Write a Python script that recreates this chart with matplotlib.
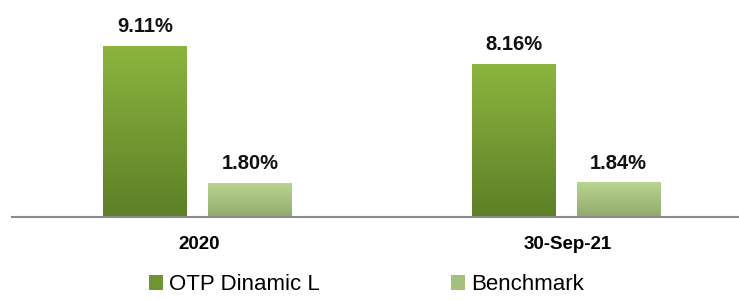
import matplotlib.pyplot as plt
import matplotlib.patches as mpatches
import matplotlib.colors as mcolors
import numpy as np

# 数据
categories = ['2020', '30-Sep-21']
series_names = ['OTP Dinamic L', 'Benchmark']
otp_values = [9.11, 8.16]
bench_values = [1.80, 1.84]

# 渐变颜色 (上, 下)
grad_colors = {
    'OTP Dinamic L': ('#8cb53f', '#5d7f27'),
    'Benchmark': ('#b9d590', '#90aa6c'),
}
legend_colors = {'OTP Dinamic L': '#6f9432', 'Benchmark': '#a5c07e'}

plt.rcParams['font.family'] = ['Liberation Sans', 'DejaVu Sans']

fig = plt.figure(figsize=(7.39, 3.0), dpi=100)
ax = fig.add_axes([0.0162, 0.277, 0.9838, 0.626])

x = np.arange(len(categories))
width = 0.227
offsets = [-0.1425, 0.1425]


def gradient_bar(ax, xc, h, c_top, c_bot):
    bars = ax.bar(xc, h, width, color='none', edgecolor='none')
    for b in bars:
        cmap = mcolors.LinearSegmentedColormap.from_list('g', [c_bot, c_top])
        grad = np.linspace(0, 1, 256).reshape(-1, 1)
        x0 = b.get_x()
        img = ax.imshow(grad, cmap=cmap, aspect='auto', origin='lower',
                        extent=(x0, x0 + b.get_width(), 0, b.get_height()), zorder=2)
        img.set_clip_path(b)
    return bars


for name, vals, off in zip(series_names, [otp_values, bench_values], offsets):
    top, bot = grad_colors[name]
    bars = gradient_bar(ax, x + off, vals, top, bot)
    for b, v in zip(bars, vals):
        ax.annotate(f'{v:.2f}%', (b.get_x() + b.get_width() / 2, v),
                    xytext=(0, 7), textcoords='offset points',
                    ha='center', va='bottom', fontsize=14.5, fontweight='bold', color='#111111')

ax.set_xlim(-0.5036, 1.4688)
ax.set_ylim(0, 10)
ax.set_aspect('auto')

for s in ['top', 'right', 'left']:
    ax.spines[s].set_visible(False)
ax.spines['bottom'].set_color('#8a8a8a')
ax.spines['bottom'].set_linewidth(1.5)
ax.set_yticks([])
ax.set_xticks(x + 0.004)
ax.set_xticklabels(categories, fontsize=13.5, fontweight='bold')
ax.tick_params(axis='x', length=0, pad=14)

handles = [mpatches.Patch(facecolor=legend_colors[n], label=n) for n in series_names]
fig.legend(handles=handles, loc='center', bbox_to_anchor=(0.496, 0.05), ncol=2,
           frameon=False, fontsize=16, handlelength=0.62, handleheight=0.62,
           handletextpad=0.3, columnspacing=5.9, borderpad=0.2)

fig.savefig('out.png', dpi=100)
